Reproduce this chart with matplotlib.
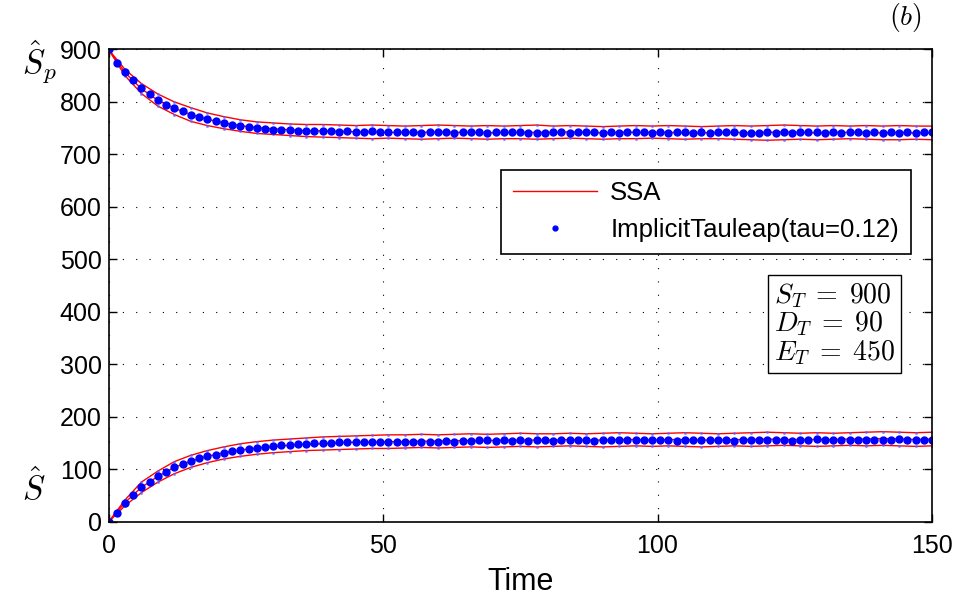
import numpy as np
import matplotlib
matplotlib.use("Agg")
import matplotlib.pyplot as plt
from matplotlib.lines import Line2D

plt.rcParams['font.family'] = ['Liberation Sans', 'DejaVu Sans']
plt.rcParams['mathtext.fontset'] = 'cm'

# time grids (tau-leap sampled every 1.5, SSA stats every 3)
t_tau = np.linspace(0, 150, 101)
t_ssa = np.linspace(0, 150, 51)

# ImplicitTauleap mean values
Sp_tau = [900, 875, 857, 841, 826, 815, 804, 795, 788, 782, 776, 771, 767, 764, 760, 757, 754, 752, 750, 749,
          747, 746, 746, 745, 745, 744, 744, 744,
          743, 744, 743, 742, 744, 743, 742, 743, 742, 743,
          741, 742, 743, 742, 741, 742, 743, 742, 741, 742,
          742, 743, 742, 741, 740, 741, 742, 742, 741, 742,
          743, 742, 741, 742, 741, 742, 743, 742, 741, 742,
          741, 742, 742, 741, 742, 741, 742, 743, 742, 741,
          740, 741, 742, 741, 742, 741, 742, 743, 742, 741,
          742, 741, 742, 742, 741, 742, 741, 742, 741, 742,
          741, 742, 742]
S_tau = [0, 18, 37, 52, 66, 77, 88, 96, 105, 111, 116, 121, 125, 128, 131, 135, 137, 139, 141, 143,
         145, 146, 147, 148, 149, 150, 151, 151,
         152, 152, 153, 152, 153, 152, 152, 153, 153, 152,
         153, 152, 153, 154, 153, 154, 155, 156, 156, 155,
         156, 155, 156, 155, 156, 156, 155, 156, 157, 156,
         156, 155, 156, 157, 156, 156, 157, 156, 156, 157,
         156, 155, 156, 157, 156, 157, 156, 156, 155, 156,
         157, 156, 156, 157, 156, 155, 156, 157, 158, 157,
         156, 157, 156, 157, 156, 157, 156, 157, 158, 157,
         156, 157, 156]

# SSA mean and mean +/- std
Sp_ssa = [900, 856, 825, 803, 788, 776, 767, 760, 755, 751, 749, 747, 745, 745, 744,
          743, 743, 742, 742, 742, 743, 742, 742, 741, 742,
          742, 742, 742, 743, 742, 741, 742, 742, 742, 742,
          741, 741, 742, 742, 741, 742, 743, 742, 741, 742,
          742, 742, 741, 742, 741, 741]
Sp_up = [900, 862, 835, 815, 800, 789, 779, 772, 766, 762, 760, 758, 757, 757, 756,
         755, 756, 755, 754, 755, 756, 755, 754, 755, 754,
         755, 756, 754, 755, 754, 753, 754, 755, 754, 755,
         754, 753, 754, 755, 754, 755, 756, 755, 754, 755,
         754, 755, 754, 755, 754, 754]
Sp_lo = [900, 850, 816, 792, 776, 763, 755, 749, 744, 740, 738, 736, 734, 733, 732,
         731, 730, 731, 730, 729, 730, 731, 730, 729, 730,
         730, 729, 730, 731, 730, 729, 730, 730, 731, 730,
         729, 730, 730, 729, 728, 727, 728, 729, 728, 729,
         730, 729, 728, 728, 729, 728]
S_ssa = [0, 37, 66, 87, 104, 116, 125, 132, 137, 141, 144, 146, 148, 149, 151,
         152, 152, 153, 153, 154, 154, 155, 155, 155, 156,
         156, 156, 156, 157, 156, 156, 157, 157, 156, 157,
         157, 156, 156, 157, 157, 158, 157, 157, 157, 157,
         158, 158, 159, 158, 157, 158]
S_up = [0, 42, 76, 97, 115, 127, 136, 143, 149, 153, 156, 158, 160, 162, 163,
        164, 165, 166, 166, 167, 166, 167, 168, 167, 168,
        169, 168, 168, 169, 168, 169, 170, 169, 168, 169,
        170, 169, 168, 169, 170, 171, 170, 169, 170, 169,
        170, 171, 172, 171, 170, 171]
S_lo = [0, 31, 56, 76, 92, 104, 113, 120, 125, 129, 132, 134, 136, 137, 138,
        139, 140, 140, 141, 142, 141, 142, 143, 142, 143,
        144, 143, 144, 145, 144, 143, 144, 145, 144, 145,
        144, 143, 144, 145, 144, 145, 146, 145, 144, 145,
        146, 145, 146, 145, 144, 145]

fig = plt.figure(figsize=(9.56, 6.02), dpi=100)
ax = fig.add_axes([0.1135, 0.1329, 0.8614, 0.785])

red = '#ff0000'
for y in (Sp_ssa, Sp_up, Sp_lo, S_ssa, S_up, S_lo):
    ax.plot(t_ssa, y, color=red, lw=1.0)

# faint tau-leap spread dots near the SSA bands
for y in (Sp_up, Sp_lo, S_up, S_lo):
    ax.plot(t_ssa, y, ls='none', marker='.', ms=2.5, color='#6060ff', alpha=0.6)

ax.plot(t_tau, Sp_tau, ls='none', marker='o', ms=5, color='#0000ff', mec='#0000ff')
ax.plot(t_tau, S_tau, ls='none', marker='o', ms=5, color='#0000ff', mec='#0000ff')

ax.set_xlim(0, 150)
ax.set_ylim(0, 900)
ax.set_xticks([0, 50, 100, 150])
ax.set_yticks(range(0, 901, 100))
ax.tick_params(direction='in', length=6, width=1, top=True, right=True, labelsize=18)
ax.tick_params(axis='x', pad=9)
ax.tick_params(axis='y', pad=5)
ax.grid(True, color='black', ls=(0, (1, 11)), lw=0.8)
for s in ax.spines.values():
    s.set_linewidth(1.2)
ax.set_xlabel('Time', fontsize=22, labelpad=6)

handles = [Line2D([], [], color=red, lw=1.0),
           Line2D([], [], ls='none', marker='o', ms=3.5, color='#0000ff')]
leg = ax.legend(handles, ['SSA', 'ImplicitTauleap(tau=0.12)'], loc='upper right',
                bbox_to_anchor=(0.974, 0.745), fontsize=18.5, handlelength=3.3,
                frameon=True, fancybox=False, borderpad=0.45, labelspacing=0.5,
                handletextpad=0.5, borderaxespad=0)
leg.get_frame().set_edgecolor('black')
leg.get_frame().set_linewidth(1.2)
leg.get_frame().set_alpha(1)

ax.text(0.808, 0.419, r'$S_T\;=\;900$' + '\n' + r'$D_T\;=\;90$' + '\n' + r'$E_T\;=\;450$',
        transform=ax.transAxes, fontsize=20, ha='left', va='center', linespacing=1.0,
        bbox=dict(boxstyle='square,pad=0.22', fc='white', ec='black', lw=1.0))

fig.text(40 / 956, 1 - 62 / 602, r'$\hat{S}_p$', fontsize=24, ha='center', va='center')
fig.text(34 / 956, 1 - 488 / 602, r'$\hat{S}$', fontsize=24, ha='center', va='center')
fig.text(905 / 956, 1 - 18 / 602, r'$(b)$', fontsize=20, ha='center', va='center')

fig.savefig('out.png', dpi=100)
